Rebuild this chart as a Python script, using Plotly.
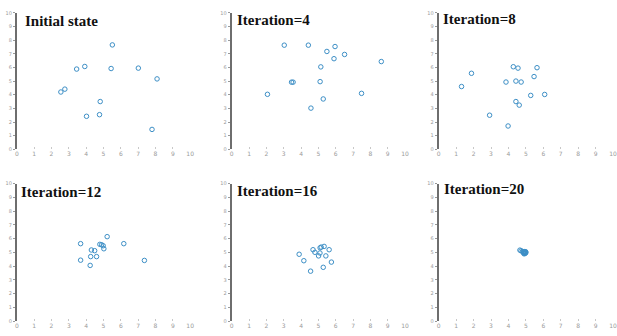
import plotly.graph_objects as go

titles = ["Initial state", "Iteration=4", "Iteration=8", "Iteration=12", "Iteration=16", "Iteration=20"]

x0 = [5.51, 3.45, 3.92, 5.44, 7.01, 8.09, 2.54, 2.77, 4.81, 4.02, 4.77, 7.80]
y0 = [7.65, 5.88, 6.07, 5.92, 5.95, 5.16, 4.20, 4.41, 3.50, 2.42, 2.54, 1.46]

x4 = [3.03, 4.42, 5.96, 5.49, 6.51, 5.90, 8.63, 5.14, 3.45, 3.54, 5.10, 2.06, 7.49, 5.28, 4.57]
y4 = [7.63, 7.63, 7.53, 7.17, 6.95, 6.64, 6.43, 6.04, 4.92, 4.92, 4.96, 4.03, 4.10, 3.69, 3.02]

x8 = [4.28, 4.55, 5.64, 1.88, 5.47, 3.86, 4.43, 4.73, 1.31, 5.28, 6.08, 4.43, 4.62, 2.92, 3.98]
y8 = [6.05, 5.95, 5.98, 5.57, 5.33, 4.93, 5.00, 4.93, 4.60, 3.95, 4.02, 3.50, 3.24, 2.50, 1.71]

x12 = [5.21, 3.68, 6.17, 4.79, 4.89, 4.98, 5.02, 4.30, 4.49, 4.26, 4.60, 3.68, 7.36, 4.23]
y12 = [6.15, 5.64, 5.64, 5.59, 5.56, 5.49, 5.27, 5.18, 5.13, 4.70, 4.70, 4.44, 4.42, 4.06]

x16 = [5.33, 5.16, 5.10, 5.62, 4.69, 4.80, 5.09, 3.89, 5.01, 5.43, 4.16, 5.75, 5.28, 4.55]
y16 = [5.44, 5.39, 5.34, 5.20, 5.20, 5.01, 4.96, 4.87, 4.75, 4.75, 4.40, 4.30, 3.92, 3.64]

x20 = [4.66, 4.72, 4.80, 4.85, 4.90, 4.95, 4.92, 4.98, 4.88, 5.00, 4.93, 4.86, 4.96, 4.90, 4.99]
y20 = [5.17, 5.12, 5.08, 5.05, 5.02, 5.00, 4.97, 5.03, 4.95, 4.98, 5.06, 5.00, 4.93, 4.90, 5.05]

xs = [x0, x4, x8, x12, x16, x20]
ys = [y0, y4, y8, y12, y16, y20]

tick_vals = list(range(0, 11))

W, H = 617, 336
col_px = [(15, 190), (232, 407), (441, 617)]
row_px = [(10, 149), (184, 324)]
title_px = [(23, 14), (237, 13), (445, 12), (19, 188), (237, 187), (446, 185)]

fig = go.Figure()
layout = dict(width=W, height=H, margin=dict(l=0, r=0, t=0, b=0),
              paper_bgcolor="white", plot_bgcolor="white", showlegend=False)
annotations = []
for i in range(6):
    r, c = divmod(i, 3)
    n = "" if i == 0 else str(i + 1)
    fig.add_trace(go.Scatter(
        x=xs[i], y=ys[i], mode="markers", xaxis="x" + n, yaxis="y" + n,
        marker=dict(symbol="circle-open", size=4.5, color="#3d8fc6", line=dict(width=1)),
        cliponaxis=False, hoverinfo="skip"))
    xd = [col_px[c][0] / W, col_px[c][1] / W]
    yd = [1 - row_px[r][1] / H, 1 - row_px[r][0] / H]
    layout["xaxis" + n] = dict(domain=xd, range=[0, 10], anchor="y" + n,
                               tickvals=tick_vals, showgrid=False, zeroline=False,
                               showline=False, ticks="inside", ticklen=2, tickcolor="#c8c8c8",
                               tickfont=dict(size=6, color="#9a9a9a", family="DejaVu Sans"))
    layout["yaxis" + n] = dict(domain=yd, range=[0, 10], anchor="x" + n,
                               tickvals=tick_vals, showgrid=False, zeroline=False,
                               showline=True, linecolor="#6e6e6e", linewidth=2,
                               ticks="outside", ticklen=2, tickcolor="#9a9a9a",
                               tickfont=dict(size=5, color="#9a9a9a", family="DejaVu Sans"))
    tx, ty = title_px[i]
    annotations.append(dict(text="<b>" + titles[i] + "</b>", xref="paper", yref="paper",
                            x=tx / W, y=1 - (ty - 6) / H, xanchor="left", yanchor="top",
                            showarrow=False, xshift=-2,
                            font=dict(family="Liberation Serif", size=15, color="#111111")))
layout["annotations"] = annotations
fig.update_layout(**layout)
fig.write_html("out.html", config={"displayModeBar": False},
               post_script="document.body.style.margin='0';document.body.style.overflow='hidden';")
